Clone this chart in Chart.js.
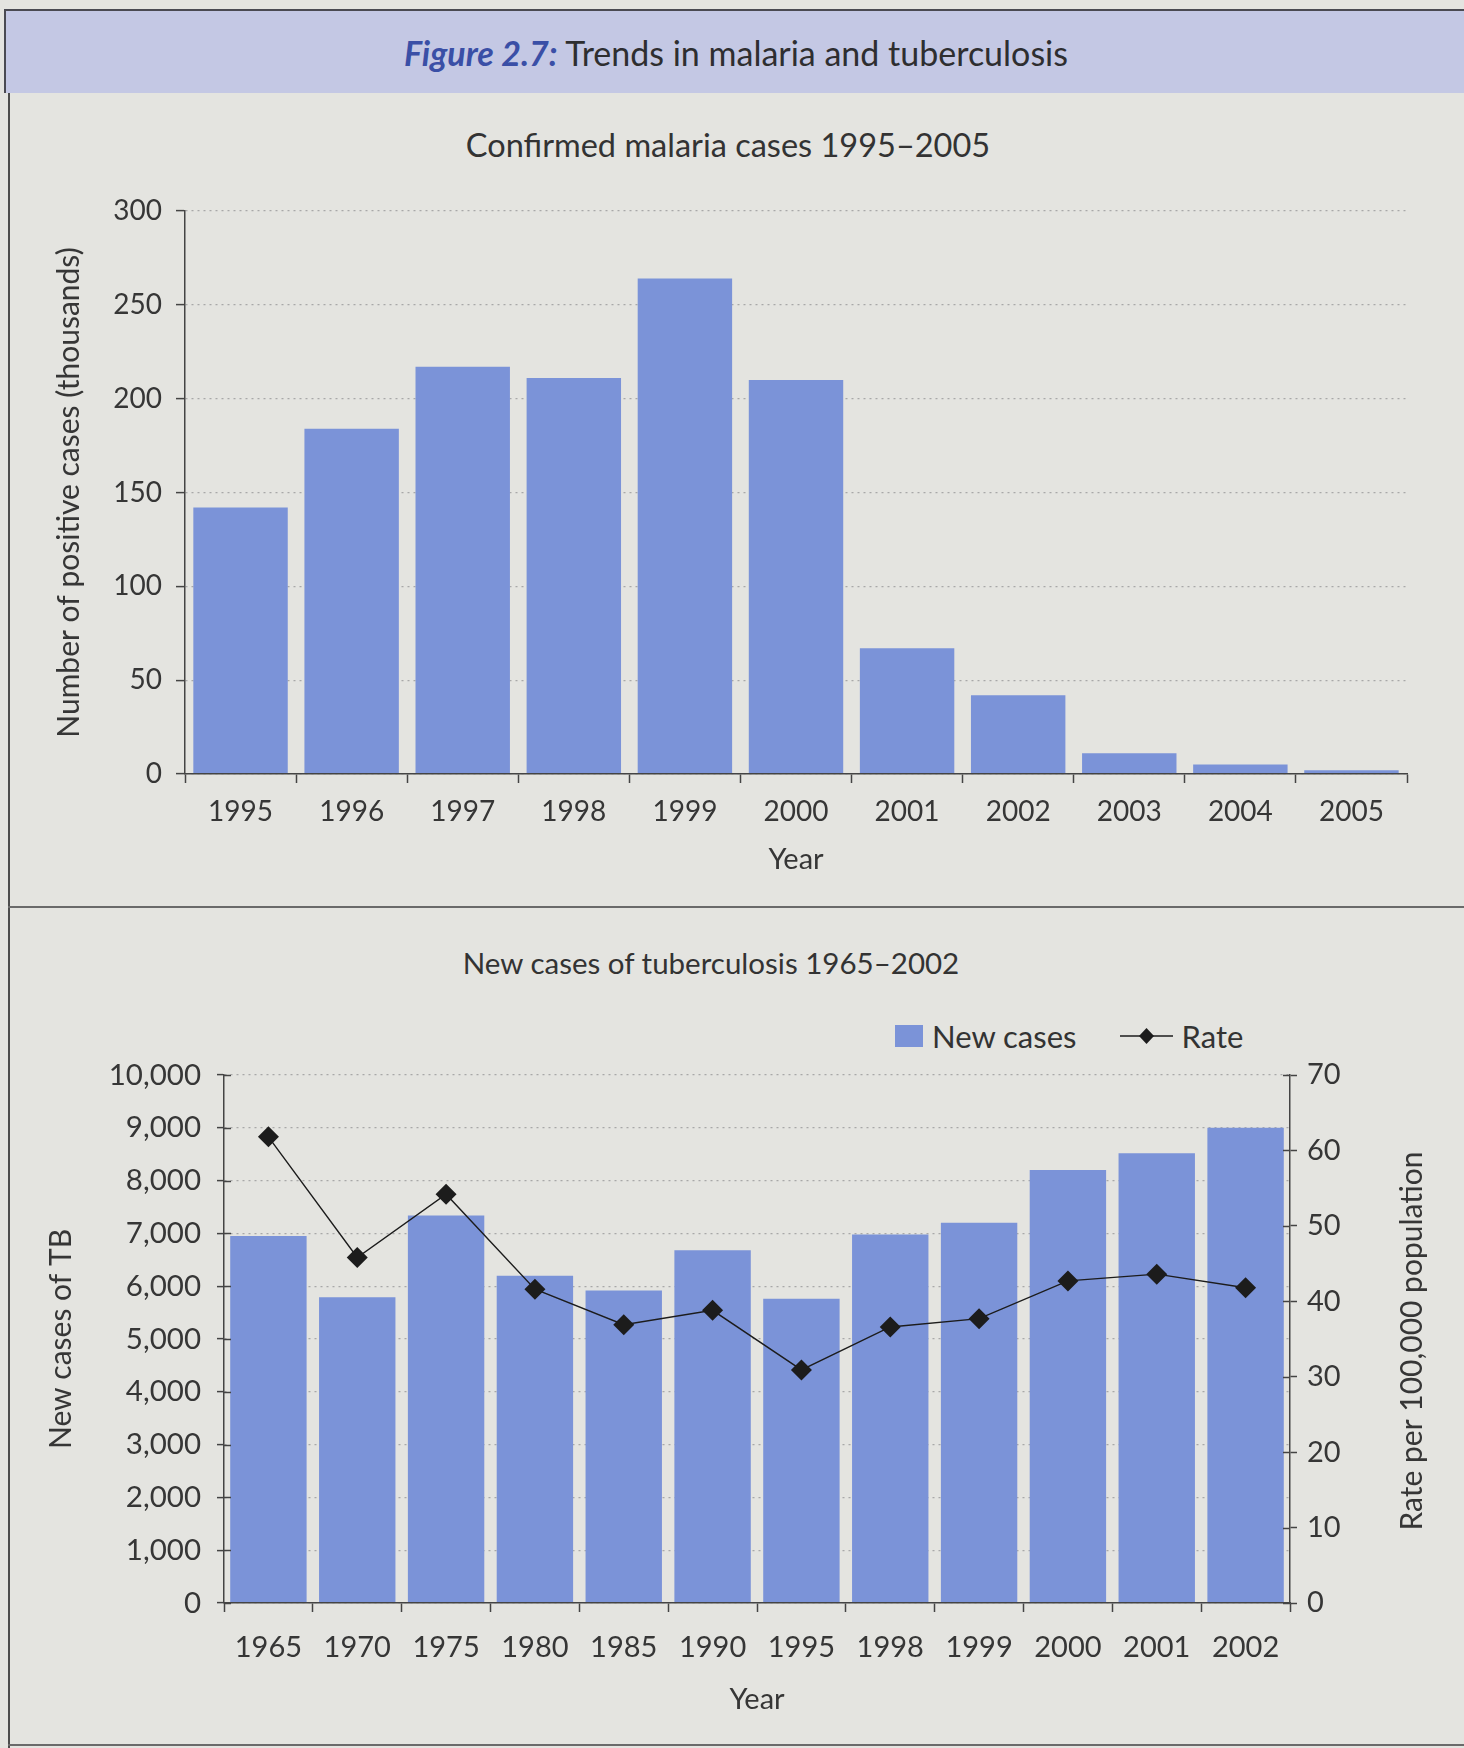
<!DOCTYPE html>
<html>
<head>
<meta charset="utf-8">
<title>Trends in malaria and tuberculosis</title>
<script src="https://cdn.jsdelivr.net/npm/chart.js@4.4.1/dist/chart.umd.min.js"></script>
<style>
  html, body { margin: 0; padding: 0; }
  body {
    width: 1464px; height: 1748px; position: relative; overflow: hidden;
    background: #e4e4e0; font-family: Lato, "Open Sans", sans-serif; color: #363636;
  }
  .band {
    position: absolute; left: 4px; top: 9px; width: 1460px; height: 84px;
    background: #c4c8e4; border-top: 2px solid #4a4a52; border-left: 2px solid #4a4a52;
    box-sizing: border-box;
  }
  .heading {
    position: absolute; left: 0; width: 1472px; top: 33px; text-align: center;
    font-size: 34px; line-height: 40px; color: #2e2e30;
  }
  .heading b { color: #3a4fa6; font-style: italic; font-weight: 700; }
  .vline { position: absolute; left: 8px; top: 93px; width: 2px; height: 1655px; background: #4c4c4c; }
  .hline { position: absolute; left: 8px; top: 906px; width: 1456px; height: 2px; background: #6a6a6a; }
  .bline { position: absolute; left: 8px; top: 1744px; width: 1456px; height: 2px; background: #6a6a6a; }
  .sub {
    position: absolute; left: 0; text-align: center; color: #333;
  }
  canvas { position: absolute; left: 0; }
  #legend {
    position: absolute; top: 1018px; left: 895px; height: 36px;
    display: flex; align-items: center; font-size: 31px; color: #333;
  }
  #legend .item { display: flex; align-items: center; margin-right: 44px; }
  #legend .swatch { width: 28px; height: 22px; margin-right: 9px; }
  #legend svg { margin-right: 8px; }
</style>
</head>
<body>
<div class="band"></div>
<div class="heading"><b>Figure 2.7:</b> Trends in malaria and tuberculosis</div>
<div class="vline"></div>
<div class="hline"></div>
<div class="bline"></div>

<div class="sub" style="top:126px; width:1456px; font-size:32.5px; line-height:38px;">Confirmed malaria cases 1995–2005</div>
<canvas id="malaria" width="1464" height="800" style="top:100px;"></canvas>

<div class="sub" style="top:945px; width:1422px; font-size:29.5px; line-height:36px;">New cases of tuberculosis 1965–2002</div>
<div id="legend"></div>
<canvas id="tb" width="1464" height="830" style="top:910px;"></canvas>

<script>
// ---- Confirmed malaria cases (thousands) ----
const malariaYears = ['1995', '1996', '1997', '1998', '1999', '2000', '2001', '2002', '2003', '2004', '2005'];
const malariaCases = [142, 184, 217, 211, 264, 210, 67, 42, 11, 5, 2];
const malariaAxis = { min: 0, max: 300, step: 50 };

// ---- New cases of tuberculosis and rate per 100,000 ----
const tbYears = ['1965', '1970', '1975', '1980', '1985', '1990', '1995', '1998', '1999', '2000', '2001', '2002'];
const tbNewCases = [6950, 5790, 7340, 6200, 5920, 6680, 5760, 6980, 7200, 8200, 8520, 9000];
const tbRate = [61.8, 45.8, 54.2, 41.6, 36.9, 38.8, 30.9, 36.6, 37.7, 42.7, 43.6, 41.8];
const tbCasesAxis = { min: 0, max: 10000, step: 1000 };
const tbRateAxis = { min: 0, max: 70, step: 10 };

const BAR_BLUE = '#7b93d8';
const INK = '#363636';
const AXIS = '#444444';
const FONT = 'Lato';

// Tick marks that cross the axis line: Chart.js draws the outer half,
// this plugin adds the half that reaches into the plot area.
const innerTicks = {
  id: 'innerTicks',
  afterDraw(chart, args, opts) {
    const ctx = chart.ctx;
    const area = chart.chartArea;
    ctx.save();
    ctx.strokeStyle = AXIS;
    ctx.lineWidth = 1.5;
    (opts.scales || []).forEach(({ id, length }) => {
      const scale = chart.scales[id];
      if (!scale) return;
      const x0 = scale.position === 'left' ? area.left : area.right;
      const dir = scale.position === 'left' ? 1 : -1;
      scale.ticks.forEach(t => {
        const y = Math.round(scale.getPixelForValue(t.value)) + 0.5;
        ctx.beginPath();
        ctx.moveTo(x0, y);
        ctx.lineTo(x0 + dir * length, y);
        ctx.stroke();
      });
    });
    ctx.restore();
  }
};

// Right-hand axis title, read from bottom to top like the left one.
const rightTitle = {
  id: 'rightTitle',
  afterDraw(chart, args, opts) {
    if (!opts.text) return;
    const ctx = chart.ctx;
    const area = chart.chartArea;
    ctx.save();
    ctx.translate(opts.x, (area.top + area.bottom) / 2 + (opts.dy || 0));
    ctx.rotate(-Math.PI / 2);
    ctx.font = `${opts.size}px ${FONT}`;
    ctx.fillStyle = INK;
    ctx.textAlign = 'center';
    ctx.textBaseline = 'middle';
    ctx.fillText(opts.text, 0, 0);
    ctx.restore();
  }
};

function drawCharts() {
  Chart.defaults.font.family = FONT;
  Chart.defaults.color = INK;

  new Chart(document.getElementById('malaria'), {
    type: 'bar',
    data: {
      labels: malariaYears,
      datasets: [{
        label: 'Confirmed malaria cases',
        data: malariaCases,
        backgroundColor: BAR_BLUE,
        borderWidth: 0,
        barPercentage: 0.85,
        categoryPercentage: 1.0
      }]
    },
    options: {
      responsive: false,
      animation: false,
      layout: { padding: { left: 0, right: 57, top: 111, bottom: 0 } },
      plugins: { legend: { display: false }, tooltip: { enabled: false } },
      scales: {
        x: {
          offset: true,
          grid: { display: true, offset: true, drawOnChartArea: false, drawTicks: true,
                  tickLength: 9, tickColor: AXIS, tickWidth: 1.5 },
          border: { display: true, color: AXIS, width: 1.5, z: 1 },
          ticks: { font: { size: 28 }, color: INK, padding: 12, maxRotation: 0, autoSkip: false },
          title: { display: true, text: 'Year', font: { size: 29 }, color: INK,
                   padding: { top: 0, bottom: 23 } },
          afterFit: s => { s.height = 126; }
        },
        y: {
          min: malariaAxis.min, max: malariaAxis.max,
          ticks: { stepSize: malariaAxis.step, font: { size: 28 }, color: INK, padding: 14 },
          grid: { color: '#a8a8a8', lineWidth: 1.2, drawTicks: true, tickLength: 9,
                  tickColor: AXIS, tickWidth: 1.5 },
          border: { display: true, color: AXIS, width: 1.5, dash: [2, 4] },
          title: { display: true, text: 'Number of positive cases (thousands)',
                   font: { size: 30 }, color: INK, padding: { top: 51, bottom: 0 } },
          afterFit: s => { s.width = 185; }
        }
      }
    }
  });

  const tbChart = new Chart(document.getElementById('tb'), {
    data: {
      labels: tbYears,
      datasets: [{
        type: 'line',
        label: 'Rate',
        data: tbRate,
        yAxisID: 'y1',
        borderColor: '#1c1c1c',
        borderWidth: 1.4,
        backgroundColor: '#1c1c1c',
        pointStyle: 'rectRot',
        pointRadius: 10.5,
        pointBorderWidth: 0,
        tension: 0,
        order: 1
      }, {
        type: 'bar',
        label: 'New cases',
        data: tbNewCases,
        yAxisID: 'y',
        backgroundColor: BAR_BLUE,
        borderWidth: 0,
        barPercentage: 0.86,
        categoryPercentage: 1.0,
        order: 2
      }]
    },
    options: {
      responsive: false,
      animation: false,
      layout: { padding: { left: 0, right: 0, top: 165, bottom: 0 } },
      plugins: {
        legend: { display: false },
        tooltip: { enabled: false },
        innerTicks: { scales: [{ id: 'y', length: 7 }, { id: 'y1', length: 7 }] },
        rightTitle: { text: 'Rate per 100,000 population', size: 30, x: 1412, dy: 2 }
      },
      scales: {
        x: {
          offset: true,
          grid: { display: true, offset: true, drawOnChartArea: false, drawTicks: true,
                  tickLength: 9, tickColor: AXIS, tickWidth: 1.5 },
          border: { display: true, color: AXIS, width: 1.5, z: 1 },
          ticks: { font: { size: 29 }, color: INK, padding: 18, maxRotation: 0, autoSkip: false },
          title: { display: true, text: 'Year', font: { size: 29 }, color: INK,
                   padding: { top: 0, bottom: 23 } },
          afterFit: s => { s.height = 137; }
        },
        y: {
          position: 'left',
          min: tbCasesAxis.min, max: tbCasesAxis.max,
          ticks: { stepSize: tbCasesAxis.step, font: { size: 29.5 }, color: INK, padding: 16,
                   callback: v => v.toLocaleString('en-US') },
          grid: { color: '#a8a8a8', lineWidth: 1.2, drawTicks: true, tickLength: 7,
                  tickColor: AXIS, tickWidth: 1.5 },
          border: { display: true, color: AXIS, width: 1.5, dash: [2, 4] },
          title: { display: true, text: 'New cases of TB', font: { size: 30 }, color: INK,
                   padding: { top: 43, bottom: 0 }, align: 'center' },
          afterFit: s => { s.width = 224; }
        },
        y1: {
          position: 'right',
          min: tbRateAxis.min, max: tbRateAxis.max,
          ticks: { stepSize: tbRateAxis.step, font: { size: 29 }, color: INK, padding: 10 },
          grid: { drawOnChartArea: false, drawTicks: true, tickLength: 7,
                  tickColor: AXIS, tickWidth: 1.5 },
          border: { display: true, color: AXIS, width: 1.5 },
          afterFit: s => { s.width = 174; }
        }
      }
    },
    plugins: [innerTicks, rightTitle]
  });

  // HTML legend built from the datasets: bars first, then the rate line.
  const legend = document.getElementById('legend');
  const ordered = [...tbChart.data.datasets].sort((a, b) => b.order - a.order);
  ordered.forEach(ds => {
    const item = document.createElement('div');
    item.className = 'item';
    if (ds.type === 'bar') {
      const sw = document.createElement('span');
      sw.className = 'swatch';
      sw.style.background = ds.backgroundColor;
      item.appendChild(sw);
    } else {
      const ns = 'http://www.w3.org/2000/svg';
      const svg = document.createElementNS(ns, 'svg');
      svg.setAttribute('width', '53');
      svg.setAttribute('height', '22');
      const line = document.createElementNS(ns, 'line');
      line.setAttribute('x1', '0'); line.setAttribute('x2', '53');
      line.setAttribute('y1', '11'); line.setAttribute('y2', '11');
      line.setAttribute('stroke', ds.borderColor); line.setAttribute('stroke-width', '1.6');
      const dia = document.createElementNS(ns, 'polygon');
      dia.setAttribute('points', '26.5,3 34,11 26.5,19 19,11');
      dia.setAttribute('fill', ds.backgroundColor);
      svg.appendChild(line); svg.appendChild(dia);
      item.appendChild(svg);
    }
    const txt = document.createElement('span');
    txt.textContent = ds.label;
    item.appendChild(txt);
    legend.appendChild(item);
  });
}

if (document.fonts && document.fonts.load) {
  Promise.all([document.fonts.load('28px Lato'), document.fonts.load('bold italic 32px Lato')])
    .then(drawCharts, drawCharts);
} else {
  drawCharts();
}
</script>
</body>
</html>
